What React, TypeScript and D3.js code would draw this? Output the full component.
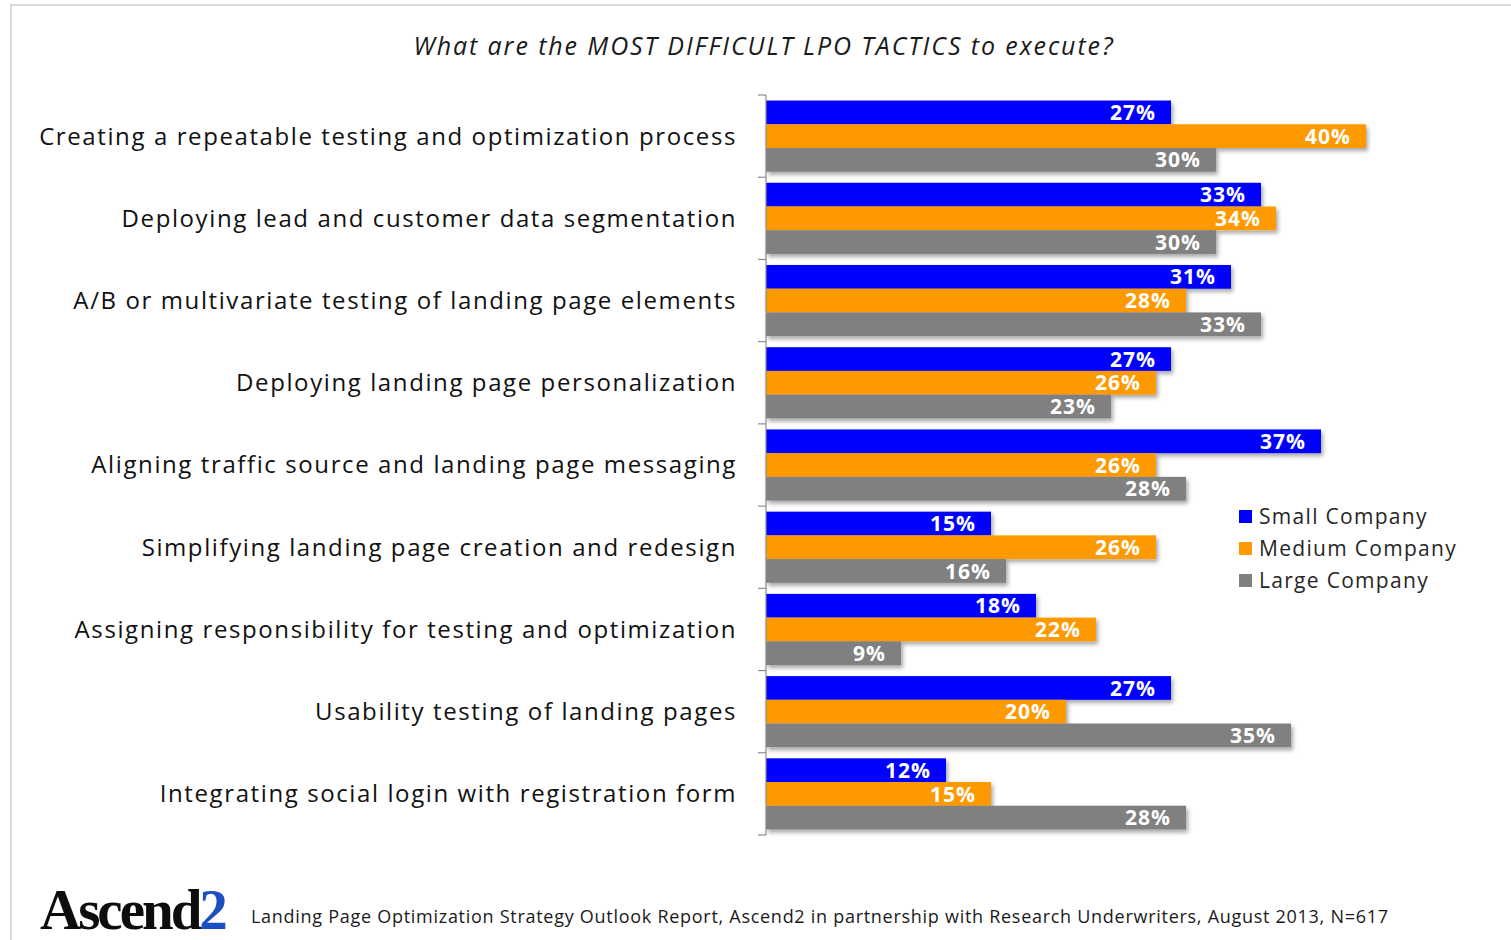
import React from "react";
import * as d3 from "d3";

const categories = [
  "Creating a repeatable testing and optimization process",
  "Deploying lead and customer data segmentation",
  "A/B or multivariate testing of landing page elements",
  "Deploying landing page personalization",
  "Aligning traffic source and landing page messaging",
  "Simplifying landing page creation and redesign",
  "Assigning responsibility for testing and optimization",
  "Usability testing of landing pages",
  "Integrating social login with registration form",
];
const seriesNames = ["Small Company", "Medium Company", "Large Company"];
const small = [27, 33, 31, 27, 37, 15, 18, 27, 12];
const medium = [40, 34, 28, 26, 26, 26, 22, 20, 15];
const large = [30, 30, 33, 23, 28, 16, 9, 35, 28];
const seriesValues = [small, medium, large];
const colors = ["#0000FF", "#FF9900", "#808080"];

const title = "What are the MOST DIFFICULT LPO TACTICS to execute?";
const footer =
  "Landing Page Optimization Strategy Outlook Report, Ascend2 in partnership with Research Underwriters, August 2013, N=617";

const W = 1511;
const H = 940;
const FONT = "'Open Sans', Lato, sans-serif";

export default function App() {
  const x0 = 766;
  const x = d3.scaleLinear().domain([0, 40]).range([x0, x0 + 600]);
  const y = d3.scaleBand<string>().domain(categories).range([95, 835]).padding(0);
  const inner = d3
    .scaleBand<string>()
    .domain(seriesNames)
    .range([0, y.bandwidth()])
    .paddingInner(0)
    .paddingOuter(0.234);

  const ticks = categories.map((c) => y(c) as number).concat([835]);

  return (
    <svg
      width={W}
      height={H}
      style={{ position: "absolute", left: 0, top: 0, background: "#fff" }}
    >
      <defs>
        <filter id="sh" x="-5%" y="-30%" width="110%" height="180%">
          <feDropShadow dx="2" dy="3" stdDeviation="2" floodColor="#000" floodOpacity="0.35" />
        </filter>
        <filter id="logo" x="-5%" y="-10%" width="110%" height="130%">
          <feGaussianBlur stdDeviation="0.6" />
        </filter>
      </defs>
      {/* frame */}
      <line x1={10} y1={5} x2={W} y2={5} stroke="#d9d9d9" strokeWidth={2} />
      <line x1={11} y1={5} x2={11} y2={H} stroke="#d9d9d9" strokeWidth={2} />

      <text
        x={764}
        y={55}
        textAnchor="middle"
        fontFamily={FONT}
        fontStyle="italic"
        fontSize={25}
        letterSpacing={1.9}
        fill="#1a1a1a"
      >
        {title}
      </text>

      {/* bars */}
      {categories.map((c, i) => (
        <g key={c} transform={`translate(0,${y(c)})`}>
          {seriesNames.map((s, j) => {
            const v = seriesValues[j][i];
            const by = inner(s) as number;
            const bh = inner.bandwidth();
            return (
              <g key={s}>
                <rect
                  x={x(0)}
                  y={by}
                  width={x(v) - x(0)}
                  height={bh}
                  fill={colors[j]}
                  filter="url(#sh)"
                />
                <text
                  x={x(v) - 15}
                  y={by + bh / 2 + 2}
                  textAnchor="end"
                  dominantBaseline="middle"
                  fontFamily={FONT}
                  fontWeight="bold"
                  fontSize={21}
                  letterSpacing={1}
                  fill="#fff"
                >
                  {v}%
                </text>
              </g>
            );
          })}
          <text
            x={737}
            y={y.bandwidth() / 2 + 2}
            textAnchor="end"
            dominantBaseline="middle"
            fontFamily={FONT}
            fontSize={24}
            letterSpacing={1.6}
            fill="#111"
          >
            {c}
          </text>
        </g>
      ))}

      {/* axis */}
      <line x1={x0} y1={95} x2={x0} y2={835} stroke="#8c8c8c" strokeWidth={1.2} />
      {ticks.map((t, i) => (
        <line key={i} x1={x0 - 8} y1={t} x2={x0} y2={t} stroke="#8c8c8c" strokeWidth={1.2} />
      ))}

      {/* legend */}
      {seriesNames.map((s, j) => (
        <g key={s} transform={`translate(1239,${517 + j * 32})`}>
          <rect x={0} y={-7} width={13} height={13} fill={colors[j]} />
          <text
            x={20}
            y={1}
            dominantBaseline="middle"
            fontFamily={FONT}
            fontSize={21}
            letterSpacing={1.3}
            fill="#262626"
          >
            {s}
          </text>
        </g>
      ))}

      {/* footer */}
      <g filter="url(#logo)">
        <text
          x={40}
          y={929}
          fontFamily="'Liberation Serif', serif"
          fontWeight="bold"
          fontSize={57}
          letterSpacing={-3}
          fill="#111"
        >
          Ascend<tspan fill="#1f4fbf">2</tspan>
        </text>
      </g>
      <text
        x={251}
        y={923}
        fontFamily={FONT}
        fontSize={18}
        letterSpacing={0.72}
        fill="#1a1a1a"
      >
        {footer}
      </text>
    </svg>
  );
}
